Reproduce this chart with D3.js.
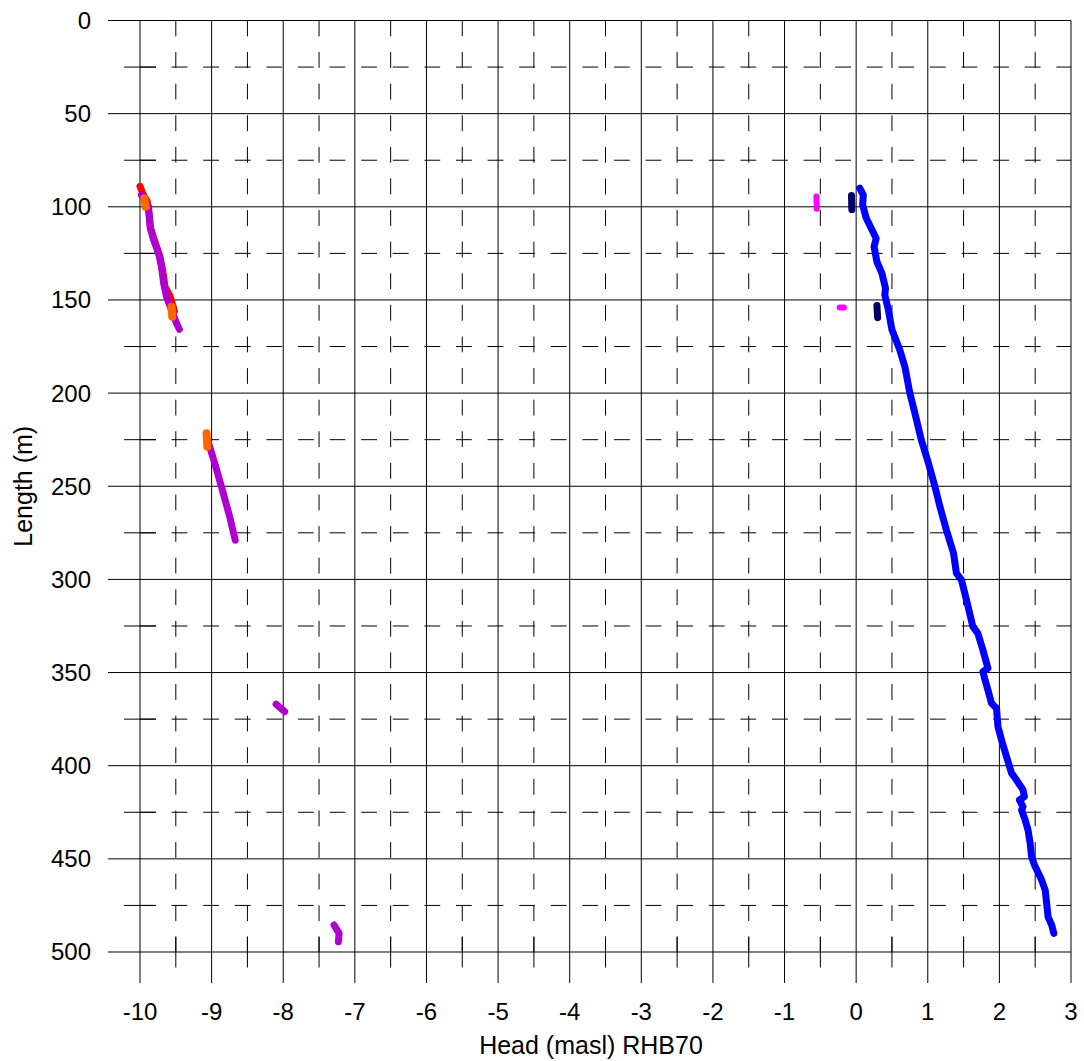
<!DOCTYPE html>
<html>
<head>
<meta charset="utf-8">
<script src="https://cdn.jsdelivr.net/npm/d3@7"></script>
<style>
  body { margin: 0; background: #fff; }
  svg { display: block; font-family: Arial, "Liberation Sans", sans-serif; }
</style>
</head>
<body>
<div id="chart"></div>
<script>
// Head profiles along the borehole
// null splits a series into separate pieces
const blueHead = [0.05, 0.1, 0.09, 0.14, 0.21, 0.28, 0.25, 0.29, 0.36, 0.41, 0.4, 0.45, 0.5, 0.61, 0.68, 0.75, 0.82, 0.91, 1.01, 1.1, 1.17, 1.26, 1.36, 1.4, 1.47, 1.54, 1.63, 1.7, 1.77, 1.84, 1.77, 1.8, 1.84, 1.89, 1.96, 1.98, 2.03, 2.1, 2.17, 2.24, 2.33, 2.35, 2.28, 2.33, 2.31, 2.36, 2.4, 2.43, 2.45, 2.49, 2.59, 2.64, 2.66, 2.68, 2.73, 2.76];
const blueLength = [90, 93.7, 99, 106, 111.5, 117, 121.4, 129.5, 135.7, 143.7, 147.3, 155.4, 166, 176.9, 185.8, 200, 210.8, 225.2, 237.7, 250.2, 261, 273.5, 286, 296.7, 300.3, 311, 325.4, 329, 337.9, 347.7, 349.5, 354, 359.4, 366.5, 369.2, 379, 386.2, 395.2, 404, 407.7, 413, 416.6, 418.4, 422, 423.8, 429.2, 434.5, 441.7, 448.9, 453.3, 461.4, 466.8, 473.9, 481.1, 485.5, 490];

const purpleHead = [-9.98, -9.88, -9.86, -9.81, -9.74, -9.7, -9.67, -9.63, -9.56, -9.49, -9.45, null,
  -9.05, -8.95, -8.85, -8.75, -8.67, null,
  -8.1, -8.04, -7.98, null,
  -7.29, -7.22, -7.23];
const purpleLength = [93.7, 99.9, 110.7, 117.8, 125, 132.2, 141, 148.3, 155.4, 162.5, 165.8, null,
  226, 238.5, 252, 266, 279, null,
  367, 369, 371, null,
  485.5, 490, 494.5];

const redHead = [-10.0, -9.96, -9.9, -9.87, -9.85, -9.78, -9.72, -9.68, -9.65, -9.58, -9.55, -9.52];
const redLength = [89, 93, 97, 105, 112, 120, 127, 135, 143, 148, 152, 156];

const orangeHead = [-9.94, -9.92, null, -9.56, -9.55, null, -9.07, -9.06];
const orangeLength = [95.4, 100, null, 153.6, 159, null, 221.6, 228.8];

const navyHead = [-0.065, -0.06, null, 0.29, 0.3];
const navyLength = [94, 101.5, null, 153, 159.5];

const magentaHead = [-0.555, -0.55, null, -0.23, -0.17];
const magentaLength = [94.5, 101, null, 154, 154];

const xMajorTicks = d3.range(-10, 3.01, 1);
const xMinorTicks = d3.range(-9.5, 3, 1);
const yMajorTicks = d3.range(0, 501, 50);
const yMinorTicks = d3.range(25, 500, 50);

const width = 1084, height = 1061;
const x = d3.scaleLinear().domain([-10, 3]).range([140, 1071]);
const y = d3.scaleLinear().domain([0, 500]).range([20.5, 952]);

const svg = d3.select("#chart").append("svg")
  .attr("width", width)
  .attr("height", height);

const grid = svg.append("g").attr("stroke", "#000").attr("stroke-width", 1).attr("fill", "none");

// minor gridlines (dashed) + crossing minor ticks
yMinorTicks.forEach((t) => {
  grid.append("line")
    .attr("x1", x(-10)).attr("x2", x(3))
    .attr("y1", y(t)).attr("y2", y(t))
    .attr("stroke-dasharray", "15.8,15.8");
  grid.append("line")
    .attr("x1", x(-10) - 16).attr("x2", x(-10) + 16)
    .attr("y1", y(t)).attr("y2", y(t));
});
xMinorTicks.forEach((t) => {
  grid.append("line")
    .attr("x1", x(t)).attr("x2", x(t))
    .attr("y1", y(0)).attr("y2", y(500))
    .attr("stroke-dasharray", "15.8,15.8");
  grid.append("line")
    .attr("x1", x(t)).attr("x2", x(t))
    .attr("y1", y(500) - 15.5).attr("y2", y(500) + 15.5);
});

// major gridlines, extended as outside ticks
yMajorTicks.forEach((t) => {
  grid.append("line")
    .attr("x1", x(-10) - 32).attr("x2", x(3))
    .attr("y1", y(t)).attr("y2", y(t));
});
xMajorTicks.forEach((t) => {
  grid.append("line")
    .attr("x1", x(t)).attr("x2", x(t))
    .attr("y1", y(0)).attr("y2", y(500) + 31);
});

// tick labels
svg.append("g").selectAll("text")
  .data(yMajorTicks)
  .join("text")
  .attr("x", 91)
  .attr("y", (d) => y(d))
  .attr("dy", "0.35em")
  .attr("text-anchor", "end")
  .attr("font-size", 24)
  .text((d) => d);

svg.append("g").selectAll("text")
  .data(xMajorTicks)
  .join("text")
  .attr("x", (d) => x(d))
  .attr("y", 1020)
  .attr("text-anchor", "middle")
  .attr("font-size", 24)
  .text((d) => d3.format("d")(d).replace("−", "-"));

// axis titles
svg.append("text")
  .attr("transform", `translate(32, ${(y(0) + y(500)) / 2}) rotate(-90)`)
  .attr("text-anchor", "middle")
  .attr("font-size", 25)
  .text("Length (m)");

svg.append("text")
  .attr("x", 591)
  .attr("y", 1054)
  .attr("text-anchor", "middle")
  .attr("font-size", 25)
  .text("Head (masl) RHB70");

// series
const line = d3.line()
  .defined((d) => d[0] !== null)
  .x((d) => x(d[0]))
  .y((d) => y(d[1]))
  .curve(d3.curveLinear);

function drawSeries(heads, lengths, color, w) {
  const pts = heads.map((h, i) => [h, lengths[i]]);
  svg.append("path")
    .datum(pts)
    .attr("d", line)
    .attr("fill", "none")
    .attr("stroke", color)
    .attr("stroke-width", w)
    .attr("stroke-linecap", "round")
    .attr("stroke-linejoin", "round");
}

drawSeries(redHead, redLength, "#FF0000", 7);
drawSeries(purpleHead, purpleLength, "#B000D0", 7);
drawSeries(orangeHead, orangeLength, "#FF6600", 8);
drawSeries(blueHead, blueLength, "#0000FF", 7);
drawSeries(navyHead, navyLength, "#000066", 7);
drawSeries(magentaHead, magentaLength, "#FF00FF", 6);
</script>
</body>
</html>
